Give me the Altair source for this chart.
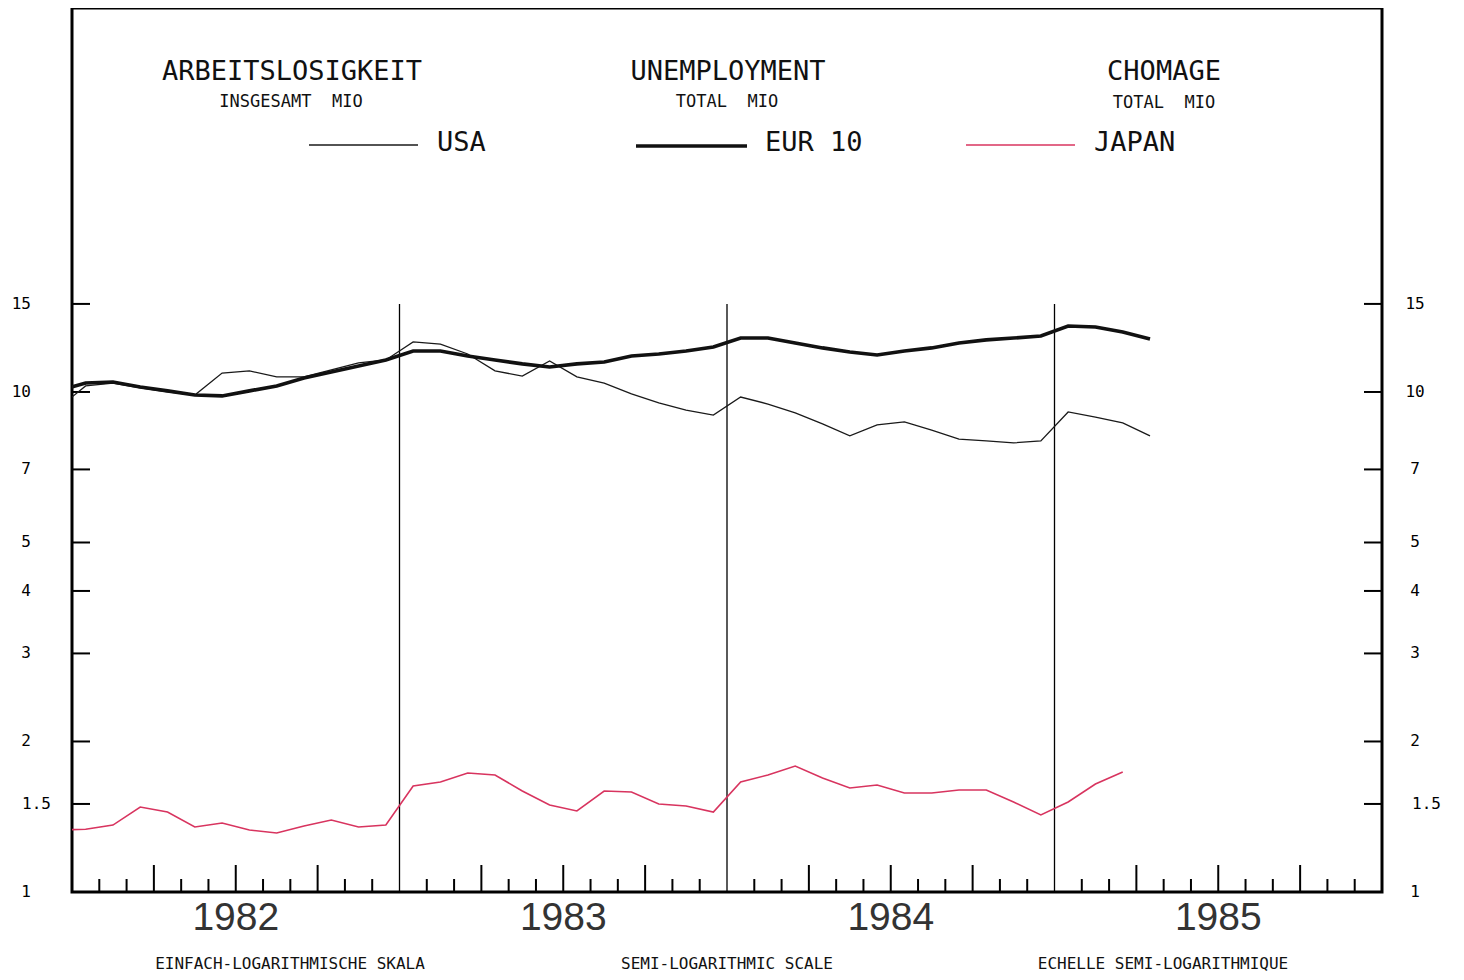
import altair as alt
import pandas as pd

# Monthly values, Dec 1981 .. Apr 1985 (millions, log scale)
usa = [9.29,
       10.28, 10.42, 10.19, 10.00, 9.86, 10.91, 11.02, 10.72, 10.72, 11.07, 11.43, 11.59,
       12.59, 12.47, 11.91, 11.02, 10.76, 11.53, 10.72, 10.42, 9.91, 9.51, 9.20, 8.99,
       9.77, 9.46, 9.08, 8.63, 8.17, 8.59, 8.71, 8.39, 8.05, 7.98, 7.91, 7.98,
       9.12, 8.91, 8.67, 8.17]
eur10 = [10.05,
         10.42, 10.47, 10.23, 10.05, 9.86, 9.82, 10.05, 10.28, 10.66, 10.96, 11.27, 11.59,
         12.08, 12.08, 11.80, 11.59, 11.38, 11.22, 11.38, 11.48, 11.80, 11.91, 12.08, 12.30,
         12.82, 12.82, 12.53, 12.25, 12.02, 11.86, 12.08, 12.25, 12.53, 12.71, 12.82, 12.94,
         13.55, 13.49, 13.18, 12.76]
japan = [1.33,
         1.335, 1.361, 1.479, 1.445, 1.349, 1.374, 1.330, 1.312, 1.355, 1.393, 1.349, 1.361,
         1.629, 1.660, 1.730, 1.714, 1.592, 1.493, 1.452, 1.592, 1.585, 1.500, 1.486, 1.445,
         1.660, 1.714, 1.786, 1.690, 1.614, 1.637, 1.578, 1.578, 1.600, 1.600, 1.514, 1.426,
         1.514, 1.644, 1.738]

years = [1982, 1983, 1984, 1985]
y_ticks = [1.5, 2, 3, 4, 5, 7, 10, 15]
y_labels = ["1.5", "2", "3", "4", "5", "7", "10", "15", "1"]
y_label_vals = [1.5, 2, 3, 4, 5, 7, 10, 15, 1]

W, H = 1310, 884
MONO = "DejaVu Sans Mono"
NB = "\u00a0"


def series_df(vals):
    return pd.DataFrame({"m": [i - 0.5 for i in range(len(vals))], "v": vals})


xs = alt.Scale(domain=[0, 48], nice=False, zero=False)
ys = alt.Scale(type="log", domain=[1, 58.6], nice=False, zero=False)
X = lambda f="m": alt.X(f"{f}:Q", scale=xs, axis=None)
Y = lambda f="v": alt.Y(f"{f}:Q", scale=ys, axis=None)

one = alt.Data(values=[{"a": 1}])

usa_line = alt.Chart(series_df(usa)).mark_line(color="#1a1a1a", strokeWidth=1.3, clip=True).encode(x=X(), y=Y())
eur_line = alt.Chart(series_df(eur10)).mark_line(color="#111111", strokeWidth=3.6, clip=True).encode(x=X(), y=Y())
jap_line = alt.Chart(series_df(japan)).mark_line(color="#d8345f", strokeWidth=1.6, clip=True).encode(x=X(), y=Y())

# month ticks along the bottom
months = [m for m in range(1, 48) if m % 12 != 0]
small = pd.DataFrame({"m": [m for m in months if m % 3 != 0]})
big = pd.DataFrame({"m": [m for m in months if m % 3 == 0]})
small_ticks = alt.Chart(small).mark_rule(color="black", strokeWidth=2).encode(
    x=X(), y=alt.value(H), y2=alt.value(H - 13))
big_ticks = alt.Chart(big).mark_rule(color="black", strokeWidth=2).encode(
    x=X(), y=alt.value(H), y2=alt.value(H - 27))

# year boundary lines
ylines = pd.DataFrame({"m": [12, 24, 36], "v1": [1, 1, 1], "v2": [15, 15, 15]})
year_lines = alt.Chart(ylines).mark_rule(color="black", strokeWidth=1.3).encode(
    x=X(), y=Y("v1"), y2=alt.Y2("v2"))

# y ticks on both sides
ytdf = pd.DataFrame({"v": y_ticks})
ytick_l = alt.Chart(ytdf).mark_rule(color="black", strokeWidth=2).encode(
    y=Y(), x=alt.value(0), x2=alt.value(18))
ytick_r = alt.Chart(ytdf).mark_rule(color="black", strokeWidth=2).encode(
    y=Y(), x=alt.value(W - 18), x2=alt.value(W))

lab = pd.DataFrame({"v": y_label_vals, "t": y_labels})
lab_int = lab[lab.t != "1.5"]
lab_dec = lab[lab.t == "1.5"]
lab_l_int = alt.Chart(lab_int).mark_text(font=MONO, fontSize=16, align="right", baseline="middle").encode(
    y=Y(), x=alt.value(-41), text="t:N")
lab_l_dec = alt.Chart(lab_dec).mark_text(font=MONO, fontSize=16, align="left", baseline="middle").encode(
    y=Y(), x=alt.value(-50), text="t:N")
lab_r_int = alt.Chart(lab_int).mark_text(font=MONO, fontSize=16, align="center", baseline="middle").encode(
    y=Y(), x=alt.value(1343), text="t:N")
lab_r_dec = alt.Chart(lab_dec).mark_text(font=MONO, fontSize=16, align="left", baseline="middle").encode(
    y=Y(), x=alt.value(1340), text="t:N")

# year labels
ydf = pd.DataFrame({"m": [(y - 1982) * 12 + 6 for y in years], "t": [str(y) for y in years]})
year_text = alt.Chart(ydf).mark_text(font="Liberation Sans", fontSize=39, align="center", baseline="middle",
                                     color="#333").encode(x=X(), y=alt.value(910), text="t:N")


def txt(s, x, y, size, align="center", weight="normal"):
    return alt.Chart(one).mark_text(text=s, font=MONO, fontSize=size, align=align, baseline="middle",
                                    fontWeight=weight, color="#111").encode(x=alt.value(x), y=alt.value(y))


def seg(x1, x2, y, color, w):
    return alt.Chart(one).mark_rule(color=color, strokeWidth=w).encode(
        x=alt.value(x1), x2=alt.value(x2), y=alt.value(y))


annots = [
    txt("ARBEITSLOSIGKEIT", 220, 64, 27),
    txt("INSGESAMT" + NB + NB + "MIO", 219, 94, 17),
    txt("UNEMPLOYMENT", 656, 64, 27),
    txt("TOTAL" + NB + NB + "MIO", 655, 94, 17),
    txt("CHOMAGE", 1092, 64, 27),
    txt("TOTAL" + NB + NB + "MIO", 1092, 95, 17),
    seg(237, 346, 137, "#1a1a1a", 1.4),
    txt("USA", 365, 135, 27, align="left"),
    seg(564, 675, 138, "#111111", 3.6),
    txt("EUR 10", 693, 135, 27, align="left"),
    seg(894, 1003, 137, "#d8345f", 1.6),
    txt("JAPAN", 1022, 135, 27, align="left"),
    txt("EINFACH-LOGARITHMISCHE SKALA", 218, 956, 16),
    txt("SEMI-LOGARITHMIC SCALE", 655, 956, 16),
    txt("ECHELLE SEMI-LOGARITHMIQUE", 1091, 956, 16),
]

chart = alt.layer(
    small_ticks, big_ticks, year_lines, ytick_l, ytick_r,
    usa_line, eur_line, jap_line,
    lab_l_int, lab_l_dec, lab_r_int, lab_r_dec, year_text,
    *annots
).properties(
    width=W, height=H,
    autosize=alt.AutoSizeParams(type="none"),
    padding={"left": 64, "top": 0, "right": 72, "bottom": 80},
    background="white",
).configure_view(stroke="black", strokeWidth=3)

chart.save("out.html", embed_options={"renderer": "svg", "actions": False})
